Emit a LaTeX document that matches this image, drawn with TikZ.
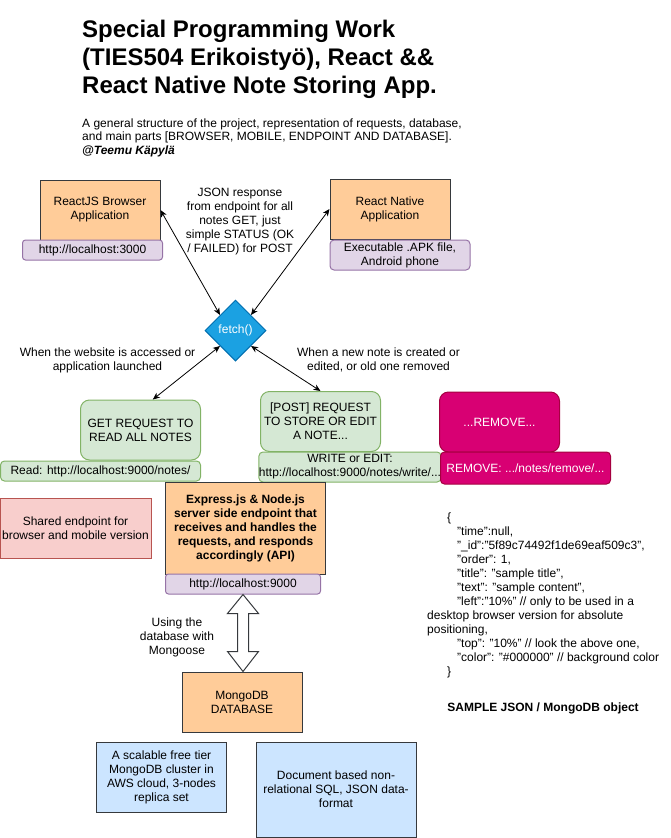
\documentclass[tikz,border=0pt]{standalone}
\usepackage{fontspec}
\setmainfont{Liberation Sans}
\usetikzlibrary{arrows.meta,shapes.geometric,calc,positioning}
\definecolor{orangefill}{HTML}{FFCC99}
\definecolor{darkline}{HTML}{36393D}
\definecolor{purplefill}{HTML}{E1D5E7}
\definecolor{purpleline}{HTML}{9673A6}
\definecolor{greenfill}{HTML}{D5E8D4}
\definecolor{greenline}{HTML}{82B366}
\definecolor{pinkfill}{HTML}{D80073}
\definecolor{pinkline}{HTML}{A50040}
\definecolor{redfill}{HTML}{F8CECC}
\definecolor{redline}{HTML}{B85450}
\definecolor{bluefill}{HTML}{CCE5FF}
\definecolor{fetchfill}{HTML}{1BA1E2}
\definecolor{fetchline}{HTML}{006EAF}
\tikzset{
  base/.style={font=\fontsize{12}{14}\selectfont,align=center,inner sep=2pt,line width=1pt},
  app/.style={base,draw=darkline,fill=orangefill,minimum width=120pt,minimum height=60pt},
  url/.style={base,draw=purpleline,fill=purplefill,rounded corners=3pt,minimum height=20pt},
  req/.style={base,draw=greenline,fill=greenfill,rounded corners=9pt,minimum width=120pt,minimum height=60pt},
  requrl/.style={base,draw=greenline,fill=greenfill,rounded corners=4pt,inner xsep=0pt},
  del/.style={base,draw=pinkline,fill=pinkfill,text=white,rounded corners=9pt,minimum width=120pt,minimum height=60pt},
  delurl/.style={base,draw=pinkline,fill=pinkfill,text=white,rounded corners=4pt,minimum width=170pt,minimum height=32pt},
  note/.style={base,draw=darkline,fill=bluefill},
  conn/.style={{Stealth[length=7pt,width=6pt,inset=2pt]}-{Stealth[length=7pt,width=6pt,inset=2pt]},line width=0.8pt}
}
\begin{document}
\begin{tikzpicture}[x=1pt,y=-1pt]
\useasboundingbox (0,0) rectangle (671,838);
% title and description
\node[anchor=north west,inner sep=0pt,align=left,font=\fontsize{24}{28}\selectfont\bfseries] (title) at (82,20)
  {Special Programming Work\\(TIES504 Erikoistyö), React \&\&\\React Native Note Storing App.};
\node[anchor=north west,inner sep=0pt,align=left,font=\fontsize{12}{13.5}\selectfont] (desc) at (82,118.5)
  {A general structure of the project, representation of requests, database,\\and main parts [BROWSER, MOBILE, ENDPOINT AND DATABASE].\\\textbf{\textit{@Teemu Käpylä}}};
% clients
\node[app] (react) at (100,210) {ReactJS Browser\\Application};
\node[url,minimum width=140pt] (url3000) at (92.5,250) {http://localhost:3000};
\node[app] (native) at (390,209) {React Native\\Application};
\node[url,minimum width=140pt,minimum height=30pt,rounded corners=4pt] (apk) at (400,255) {Executable .APK file,\\Android phone};
\node[base] (response) at (240,222) {JSON response\\from endpoint for all\\notes GET, just\\simple STATUS (OK\\/ FAILED) for POST};
% fetch
\node[base,diamond,draw=fetchline,fill=fetchfill,text=white,minimum width=61pt,minimum height=61pt,inner sep=0pt] (fetch) at (235.5,330.5) {fetch()};
\node[base] (whenget) at (107.5,360.5) {When the website is accessed or\\application launched};
\node[base] (whenpost) at (378.5,360) {When a new note is created or\\edited, or old one removed};
% requests
\node[req] (get) at (140.5,430) {GET REQUEST TO\\READ ALL NOTES};
\node[requrl,minimum width=200pt,minimum height=20pt] (readurl) at (100.5,471) {Read: http://localhost:9000/notes/};
\node[req] (post) at (320.5,421.5) {[POST] REQUEST\\TO STORE OR EDIT\\A NOTE...};
\node[requrl,minimum width=180pt,minimum height=30pt] (writeurl) at (350,467) {WRITE or EDIT:\\http://localhost:9000/notes/write/...};
\node[del] (remove) at (499.5,422) {...REMOVE...};
\node[delurl] (removeurl) at (525.5,468) {REMOVE: .../notes/remove/...};
% endpoint
\node[base,draw=redline,fill=redfill,minimum width=151pt,minimum height=60pt] (shared) at (75.5,528) {Shared endpoint for\\browser and mobile version};
\node[app,minimum width=160pt,minimum height=92pt,font=\fontsize{12}{14}\selectfont\bfseries] (express) at (245.5,528)
  {Express.js \& Node.js\\server side endpoint that\\receives and handles the\\requests, and responds\\accordingly (API)};
\node[url,minimum width=155pt] (url9000) at (243,584) {http://localhost:9000};
\node[base] (mongoose) at (177,637.5) {Using the\\database with\\Mongoose};
% database
\node[app] (mongo) at (242,702) {MongoDB\\DATABASE};
\node[note,minimum width=130pt,minimum height=70pt] (aws) at (161.5,777) {A scalable free tier\\MongoDB cluster in\\AWS cloud, 3-nodes\\replica set};
\node[note,minimum width=160pt,minimum height=95pt] (docsql) at (336,789.5) {Document based non-\\relational SQL, JSON data-\\format};
% sample object
\node[anchor=north west,inner sep=0pt,align=left,font=\fontsize{12}{14}\selectfont] (sample) at (427,513)
  {\hspace*{20pt}\{\\
   \hspace*{30pt}"time":null,\\
   \hspace*{30pt}"\_id":"5f89c74492f1de69eaf509c3",\\
   \hspace*{30pt}"order": 1,\\
   \hspace*{30pt}"title": "sample title",\\
   \hspace*{30pt}"text": "sample content",\\
   \hspace*{30pt}"left":"10\%" // only to be used in a\\
   desktop browser version for absolute\\
   positioning,\\
   \hspace*{30pt}"top": "10\%" // look the above one,\\
   \hspace*{30pt}"color": "\#000000" // background color\\
   \hspace*{20pt}\}};
\node[base,font=\fontsize{12}{14}\selectfont\bfseries] (samplelabel) at (543,708) {SAMPLE JSON / MongoDB object};
% connectors
\draw[conn] (react.east) -- (fetch.north west);
\draw[conn] (native.west) -- (fetch.north east);
\draw[conn] (fetch.south west) -- (get.68);
\draw[conn] (fetch.south east) -- (post.north);
\coordinate (dtop) at (url9000.south);
\coordinate (dbot) at (dtop |- mongo.north);
\draw[line width=1pt,draw=darkline,fill=white,line join=miter]
  (dtop) -- ($(dtop)+(15.5,19)$) -- ($(dtop)+(5.5,19)$) -- ($(dbot)+(5.5,-20)$) -- ($(dbot)+(15.5,-20)$)
  -- (dbot) -- ($(dbot)+(-15.5,-20)$) -- ($(dbot)+(-5.5,-20)$) -- ($(dtop)+(-5.5,19)$) -- ($(dtop)+(-15.5,19)$) -- cycle;
\end{tikzpicture}
\end{document}
